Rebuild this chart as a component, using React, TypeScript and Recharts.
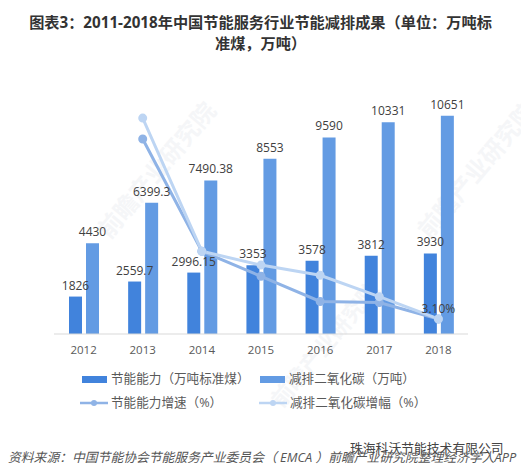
import { ComposedChart, Bar, Line, XAxis, YAxis, Legend, LabelList } from "recharts";

const FONT = "'Open Sans', 'Noto Sans CJK SC', sans-serif";

const years = ["2012", "2013", "2014", "2015", "2016", "2017", "2018"];
const savingCapacity = [1826, 2559.7, 2996.15, 3353, 3578, 3812, 3930];
const co2Reduction = [4430, 6399.3, 7490.38, 8553, 9590, 10331, 10651];
const savingGrowth = [null, 40.2, 17.05, 11.9, 6.7, 6.5, 3.1];
const co2Growth = [null, 44.5, 17.05, 14.2, 12.1, 7.7, 3.1];

const legendOrder = ["节能能力（万吨标准煤）", "减排二氧化碳（万吨）", "节能能力增速（%）", "减排二氧化碳增幅（%）"];

const data = years.map((year, i) => ({
  year,
  saving: savingCapacity[i],
  co2: co2Reduction[i],
  savingGrowth: savingGrowth[i],
  co2Growth: co2Growth[i],
}));

const watermarks = [
  { text: "前瞻产业研究院", left: 88, top: 222, size: 24 },
  { text: "前瞻产业研究院", left: 408, top: 222, size: 24 },
  { text: "前瞻产业研究院", left: 262, top: 392, size: 22 },
];

function LegendRows({ payload }: any) {
  const items = legendOrder.map((name) => (payload ?? []).find((p: any) => p.value === name)).filter(Boolean);
  const slots = [
    { left: 82, top: 0 },
    { left: 260, top: 0 },
    { left: 80, top: 24 },
    { left: 259, top: 24 },
  ];
  return (
    <div style={{ position: "relative", width: 521, height: 50, fontFamily: FONT, fontSize: 12.6, color: "#595959" }}>
      {items.map((item: any, i: number) => {
        const isLine = item.type === "line";
        return (
          <div
            key={item.value}
            style={{ position: "absolute", left: slots[i].left, top: slots[i].top, height: 18, lineHeight: "18px", whiteSpace: "nowrap" }}
          >
            <svg width={29} height={18} style={{ position: "absolute", left: 0, top: 0 }}>
              {isLine ? (
                <g>
                  <line x1={0} x2={28} y1={9} y2={9} stroke={item.color} strokeWidth={2.5} />
                  <circle cx={14} cy={9} r={3} fill={item.color} />
                </g>
              ) : (
                <rect x={0} y={6} width={25} height={7} fill={item.color} />
              )}
            </svg>
            <span style={{ position: "absolute", left: isLine ? 31 : 29, top: 0 }}>{item.value}</span>
          </div>
        );
      })}
    </div>
  );
}

export default function App() {
  return (
    <div style={{ position: "absolute", left: 0, top: 0, width: 521, height: 474, background: "#fff", overflow: "hidden", fontFamily: FONT }}>
      {watermarks.map((w, i) => (
        <div
          key={i}
          style={{
            position: "absolute",
            left: w.left,
            top: w.top,
            fontSize: w.size,
            fontWeight: 700,
            color: "#f5f6f8",
            whiteSpace: "nowrap",
            transform: "rotate(-50deg)",
            transformOrigin: "left top",
          }}
        >
          {w.text}
        </div>
      ))}
      <div
        style={{
          position: "absolute",
          left: 0,
          top: 12,
          width: 521,
          textAlign: "center",
          fontSize: 15.2,
          lineHeight: "21px",
          fontWeight: 700,
          color: "#333",
          whiteSpace: "nowrap",
        }}
      >
        图表3：2011-2018年中国节能服务行业节能减排成果（单位：万吨标
        <br />
        准煤，万吨）
      </div>
      <div style={{ position: "absolute", left: 0, top: 0 }}>
        <ComposedChart
          width={521}
          height={474}
          data={data}
          barSize={13}
          barGap={4}
          margin={{ top: 88, right: 53, left: 54, bottom: 110 }}
          style={{ fontFamily: FONT }}
        >
          <XAxis
            dataKey="year"
            height={30}
            tickLine={false}
            axisLine={{ stroke: "#d9d9d9" }}
            tick={{ fontSize: 11.5, fill: "#595959" }}
            tickMargin={6}
          />
          <YAxis yAxisId="left" hide domain={[0, 12000]} />
          <YAxis yAxisId="right" hide orientation="right" domain={[0, 50.7]} />
          <Legend
            layout="horizontal"
            verticalAlign="middle"
            content={<LegendRows />}
            wrapperStyle={{ left: 0, top: 370, width: 521 }}
          />
          <Bar yAxisId="left" dataKey="saving" name="节能能力（万吨标准煤）" fill="#4183dc" isAnimationActive={false}>
            <LabelList dataKey="saving" position="top" offset={7} fontSize={12} fill="#404040" />
          </Bar>
          <Bar yAxisId="left" dataKey="co2" name="减排二氧化碳（万吨）" fill="#639be3" isAnimationActive={false}>
            <LabelList dataKey="co2" position="top" offset={7} fontSize={12} fill="#404040" />
          </Bar>
          <Line
            yAxisId="right"
            dataKey="savingGrowth"
            name="节能能力增速（%）"
            stroke="#8fb3e6"
            strokeWidth={3}
            dot={{ r: 3, fill: "#8fb3e6", stroke: "#8fb3e6" }}
            isAnimationActive={false}
          />
          <Line
            yAxisId="right"
            dataKey="co2Growth"
            name="减排二氧化碳增幅（%）"
            stroke="#bdd5f3"
            strokeWidth={3}
            dot={{ r: 3, fill: "#bdd5f3", stroke: "#bdd5f3" }}
            isAnimationActive={false}
          >
            <LabelList
              dataKey="co2Growth"
              position="top"
              offset={6}
              fontSize={12}
              fill="#404040"
              formatter={(v: any) => (v === 3.1 ? "3.10%" : "")}
            />
          </Line>
        </ComposedChart>
      </div>
      <div
        style={{
          position: "absolute",
          left: 8,
          top: 447,
          fontSize: 12.8,
          fontStyle: "italic",
          color: "#555",
          whiteSpace: "nowrap",
        }}
      >
        资料来源：中国节能协会节能服务产业委员会（ EMCA ）前瞻产业研究院整理经济学人APP
      </div>
      <div
        style={{
          position: "absolute",
          left: 350,
          top: 438,
          fontSize: 12.8,
          color: "#444",
          whiteSpace: "nowrap",
          textShadow: "0 0 2px #fff",
        }}
      >
        珠海科沃节能技术有限公司
      </div>
    </div>
  );
}
